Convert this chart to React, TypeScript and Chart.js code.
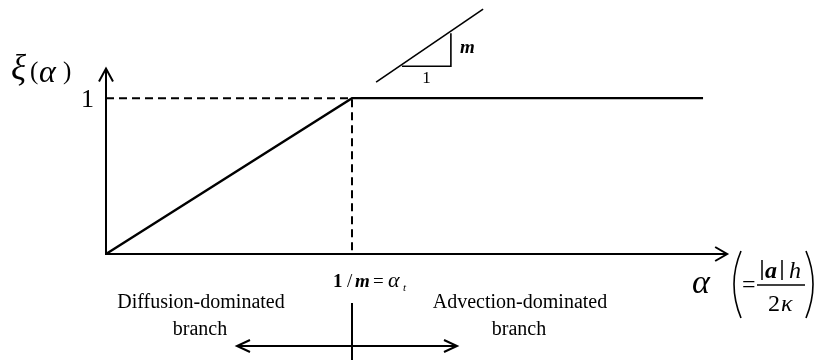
import { useEffect, useRef } from "react";
import { Chart, registerables } from "chart.js";

Chart.register(...registerables);

// Piecewise ξ(α): linear up to the transition α_t = 1/m, then flat at 1
const alphaPoints = [0, 1, 2.427];
const xiPoints = [0, 1, 1];
const alphaT = 1;
const xiMax = 1;
const yTickValues = [1];
const yTickLabels = ["1"];

// Axis extents (arrow tips) in data units
const xAxisEnd = [2.525];
const yAxisEnd = [1.19];

// Slope indicator: hypotenuse line and the 1 : m triangle
const slopeLineX = [1.098, 1.533];
const slopeLineY = [1.103, 1.571];
const slopeTriX = [1.203, 1.402];
const slopeTriY = [1.205, 1.417];

const branchLabels = ["Diffusion-dominated", "Advection-dominated"];
const branchSub = "branch";

const SERIF = '"Liberation Serif", "Times New Roman", serif';

type Ctx = CanvasRenderingContext2D;

function text(ctx: Ctx, s: string, x: number, y: number, font: string, align: CanvasTextAlign = "left") {
  ctx.font = font;
  ctx.textAlign = align;
  ctx.textBaseline = "alphabetic";
  ctx.fillText(s, x, y);
}

function line(ctx: Ctx, x1: number, y1: number, x2: number, y2: number, w = 2) {
  ctx.lineWidth = w;
  ctx.beginPath();
  ctx.moveTo(x1, y1);
  ctx.lineTo(x2, y2);
  ctx.stroke();
}

// open chevron arrow head; (dx, dy) is the unit direction of travel
function chevron(ctx: Ctx, tx: number, ty: number, dx: number, dy: number, len = 12, half = 7) {
  const bx = tx - dx * len;
  const by = ty - dy * len;
  const px = -dy;
  const py = dx;
  ctx.lineWidth = 2;
  ctx.lineJoin = "miter";
  ctx.beginPath();
  ctx.moveTo(bx + px * half, by + py * half);
  ctx.lineTo(tx, ty);
  ctx.lineTo(bx - px * half, by - py * half);
  ctx.stroke();
}

const diagramPlugin = {
  id: "diagram",
  afterDatasetsDraw(chart: Chart) {
    const ctx = chart.ctx;
    const xs = chart.scales.x;
    const ys = chart.scales.y;
    const X = (v: number) => xs.getPixelForValue(v);
    const Y = (v: number) => ys.getPixelForValue(v);
    const x0 = X(0);
    const y0 = Y(0);
    const xt = X(alphaT);

    ctx.save();
    ctx.strokeStyle = "#000";
    ctx.fillStyle = "#000";
    ctx.lineCap = "butt";

    // axes with arrow heads
    const xEnd = X(xAxisEnd[0]);
    const yEnd = Y(yAxisEnd[0]);
    line(ctx, x0, y0, xEnd - 1, y0, 2);
    chevron(ctx, xEnd, y0, 1, 0, 12, 7);
    line(ctx, x0, y0 + 1, x0, yEnd + 1, 2);
    chevron(ctx, x0, yEnd, 0, -1, 13, 7);

    // y tick labels
    yTickValues.forEach((v, i) => {
      text(ctx, yTickLabels[i], x0 - 12, Y(v) + 9, `26px ${SERIF}`, "right");
    });

    // y axis title ξ(α)
    text(ctx, "ξ", 11, 79, `italic 35px ${SERIF}`);
    text(ctx, "(", 30, 79, `25px ${SERIF}`);
    text(ctx, "α", 39, 82, `italic 32px ${SERIF}`);
    text(ctx, ")", 63, 79, `25px ${SERIF}`);

    // slope indicator
    line(ctx, X(slopeLineX[0]), Y(slopeLineY[0]), X(slopeLineX[1]), Y(slopeLineY[1]), 1.6);
    ctx.lineWidth = 1.6;
    ctx.beginPath();
    ctx.moveTo(X(slopeTriX[0]), Y(slopeTriY[0]));
    ctx.lineTo(X(slopeTriX[1]), Y(slopeTriY[0]));
    ctx.lineTo(X(slopeTriX[1]), Y(slopeTriY[1]));
    ctx.stroke();
    text(ctx, "m", X(slopeTriX[1]) + 9, Y((slopeTriY[0] + slopeTriY[1]) / 2) + 3, `bold italic 19px ${SERIF}`);
    text(ctx, "1", X((slopeTriX[0] + slopeTriX[1]) / 2), Y(slopeTriY[0]) + 17, `17px ${SERIF}`, "center");

    // transition label 1 / m = α_t
    const ly = y0 + 33;
    text(ctx, "1", xt - 19, ly, `bold 19px ${SERIF}`);
    text(ctx, "/", xt - 5, ly, `19px ${SERIF}`);
    text(ctx, "m", xt + 3, ly, `bold italic 19px ${SERIF}`);
    text(ctx, "=", xt + 21, ly, `19px ${SERIF}`);
    text(ctx, "α", xt + 36, ly, `italic 22px ${SERIF}`);
    text(ctx, "t", xt + 51, ly + 4, `italic 11px ${SERIF}`);

    // divider and branch arrows
    line(ctx, xt, y0 + 49, xt, 360, 2);
    const ay = y0 + 92;
    line(ctx, xt - 114, ay, xt + 104, ay, 2);
    chevron(ctx, xt - 115, ay, -1, 0, 13, 6);
    chevron(ctx, xt + 105, ay, 1, 0, 13, 6);

    // branch labels
    const f20 = `20px ${SERIF}`;
    text(ctx, branchLabels[0], xt - 151, y0 + 54, f20, "center");
    text(ctx, branchSub, xt - 152, y0 + 81, f20, "center");
    text(ctx, branchLabels[1], xt + 168, y0 + 54, f20, "center");
    text(ctx, branchSub, xt + 167, y0 + 81, f20, "center");

    // x axis title α (= |a| h / 2κ)
    text(ctx, "α", 692, 293, `italic 34px ${SERIF}`);
    ctx.lineWidth = 1.6;
    ctx.beginPath();
    ctx.moveTo(741, 251);
    ctx.quadraticCurveTo(727, 284, 741, 318);
    ctx.stroke();
    ctx.beginPath();
    ctx.moveTo(806, 251);
    ctx.quadraticCurveTo(820, 284, 806, 318);
    ctx.stroke();
    text(ctx, "=", 742, 292, `24px ${SERIF}`);
    line(ctx, 757, 285, 805, 285, 1.4);
    line(ctx, 762, 260, 762, 280, 1.5);
    text(ctx, "a", 765, 278, `bold italic 24px ${SERIF}`);
    line(ctx, 782, 260, 782, 280, 1.5);
    text(ctx, "h", 789, 278, `italic 24px ${SERIF}`);
    text(ctx, "2", 768, 311, `24px ${SERIF}`);
    text(ctx, "κ", 781, 311, `italic 24px ${SERIF}`);

    ctx.restore();
  },
};

export default function App() {
  const ref = useRef<HTMLCanvasElement | null>(null);

  useEffect(() => {
    if (!ref.current) return;
    const chart = new Chart(ref.current, {
      type: "scatter",
      data: {
        datasets: [
          {
            data: [
              { x: 0, y: xiMax },
              { x: alphaT, y: xiMax },
              { x: alphaT, y: 0 },
            ],
            showLine: true,
            borderColor: "#000",
            borderWidth: 2,
            borderDash: [8, 5],
            pointRadius: 0,
            clip: false,
          },
          {
            data: alphaPoints.map((a, i) => ({ x: a, y: xiPoints[i] })),
            showLine: true,
            borderColor: "#000",
            borderWidth: 2.4,
            pointRadius: 0,
            tension: 0,
            clip: false,
          },
        ],
      },
      options: {
        animation: false,
        responsive: false,
        events: [],
        layout: { padding: { left: 106, right: 93, top: 67, bottom: 106 } },
        scales: {
          x: { type: "linear", min: 0, max: 2.5, display: false },
          y: { type: "linear", min: 0, max: 1.2, display: false },
        },
        plugins: {
          legend: { display: false },
          tooltip: { enabled: false },
        },
      },
      plugins: [diagramPlugin],
    });
    return () => chart.destroy();
  }, []);

  return (
    <div style={{ position: "absolute", left: 0, top: 0, width: 814, height: 360, background: "#fff" }}>
      <canvas ref={ref} width={814} height={360} style={{ display: "block" }} />
    </div>
  );
}
